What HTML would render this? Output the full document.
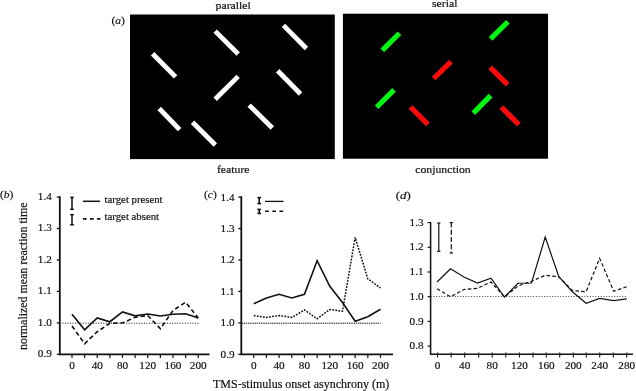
<!DOCTYPE html>
<html><head><meta charset="utf-8"><title>figure</title>
<style>
html,body{margin:0;padding:0;background:#fff;}
svg{display:block;will-change:transform;}
text{font-family:"Liberation Serif","DejaVu Serif",serif;fill:#111;stroke:#111;stroke-width:0.18px;}
</style></head><body>
<svg width="636" height="391" viewBox="0 0 636 391">
<rect x="0" y="0" width="636" height="391" fill="#fff"/>

<rect x="130" y="14.5" width="204.8" height="144.6" fill="#000"/>
<rect x="342.9" y="13.7" width="205.15" height="145.0" fill="#000"/>
<line x1="152.6" y1="53.7" x2="175.6" y2="76.85" stroke="#fff" stroke-width="4.8"/>
<line x1="215.16" y1="31.1" x2="238.2" y2="54.0" stroke="#fff" stroke-width="4.8"/>
<line x1="283.45" y1="25.4" x2="306.45" y2="48.45" stroke="#fff" stroke-width="4.8"/>
<line x1="215.16" y1="99.29" x2="238.2" y2="76.33" stroke="#fff" stroke-width="4.8"/>
<line x1="277.68" y1="70.79" x2="300.53" y2="93.95" stroke="#fff" stroke-width="4.8"/>
<line x1="159.19" y1="108.51" x2="179.64" y2="129.68" stroke="#fff" stroke-width="4.8"/>
<line x1="192.55" y1="122.2" x2="215.4" y2="145.0" stroke="#fff" stroke-width="4.8"/>
<line x1="249.14" y1="105.1" x2="272.3" y2="128.0" stroke="#fff" stroke-width="4.8"/>
<line x1="382.26" y1="50.4" x2="399.39" y2="33.27" stroke="#00f510" stroke-width="5.2"/>
<line x1="433.6" y1="78.5" x2="451.0" y2="61.55" stroke="#fc0a0a" stroke-width="5.2"/>
<line x1="490.5" y1="38.8" x2="507.89" y2="21.76" stroke="#00f510" stroke-width="5.2"/>
<line x1="490.2" y1="67.4" x2="507.6" y2="84.63" stroke="#fc0a0a" stroke-width="5.2"/>
<line x1="376.6" y1="107.25" x2="394.0" y2="89.86" stroke="#00f510" stroke-width="5.2"/>
<line x1="410.5" y1="106.97" x2="427.9" y2="124.4" stroke="#fc0a0a" stroke-width="5.2"/>
<line x1="473.33" y1="113.05" x2="490.6" y2="95.63" stroke="#00f510" stroke-width="5.2"/>
<line x1="501.24" y1="107.06" x2="518.85" y2="124.54" stroke="#fc0a0a" stroke-width="5.2"/>
<text transform="translate(215.6,8.55) scale(1.11,1)" font-size="10.6">parallel</text>
<text transform="translate(432,7.4) scale(1.11,1)" font-size="10.6">serial</text>
<text transform="translate(216.9,172.6) scale(1.11,1)" font-size="10.6">feature</text>
<text transform="translate(415.2,172.6) scale(1.11,1)" font-size="10.6">conjunction</text>
<text transform="translate(111.5,23.7) scale(1,0.92)" font-size="11.5">(<tspan font-style="italic">a</tspan>)</text>
<text transform="translate(0.0,197.7) scale(1,0.92)" font-size="11.5">(<tspan font-style="italic">b</tspan>)</text>
<text transform="translate(204.0,198.2) scale(1,0.92)" font-size="11.5">(<tspan font-style="italic">c</tspan>)</text>
<text transform="translate(395.7,198.5) scale(1.12,0.9)" font-size="11.5">(<tspan font-style="italic">d</tspan>)</text>
<path d="M59.8,196.3V354.3H209.5" fill="none" stroke="#111" stroke-width="1.8"/>
<line x1="56.8" y1="197.06" x2="59.8" y2="197.06" stroke="#111" stroke-width="1.3"/>
<text x="51.8" y="199.66" font-size="11.2" text-anchor="end">1.4</text>
<line x1="56.8" y1="228.52" x2="59.8" y2="228.52" stroke="#111" stroke-width="1.3"/>
<text x="51.8" y="231.12" font-size="11.2" text-anchor="end">1.3</text>
<line x1="56.8" y1="259.98" x2="59.8" y2="259.98" stroke="#111" stroke-width="1.3"/>
<text x="51.8" y="262.58" font-size="11.2" text-anchor="end">1.2</text>
<line x1="56.8" y1="291.44" x2="59.8" y2="291.44" stroke="#111" stroke-width="1.3"/>
<text x="51.8" y="294.04" font-size="11.2" text-anchor="end">1.1</text>
<line x1="56.8" y1="322.90" x2="59.8" y2="322.90" stroke="#111" stroke-width="1.3"/>
<text x="51.8" y="325.50" font-size="11.2" text-anchor="end">1.0</text>
<line x1="56.8" y1="354.36" x2="59.8" y2="354.36" stroke="#111" stroke-width="1.3"/>
<text x="51.8" y="356.96" font-size="11.2" text-anchor="end">0.9</text>
<line x1="72.00" y1="354.3" x2="72.00" y2="357.90000000000003" stroke="#111" stroke-width="1.2"/>
<text x="72.00" y="369.3" font-size="11.2" text-anchor="middle">0</text>
<line x1="84.62" y1="354.3" x2="84.62" y2="357.90000000000003" stroke="#111" stroke-width="1.2"/>
<line x1="97.25" y1="354.3" x2="97.25" y2="357.90000000000003" stroke="#111" stroke-width="1.2"/>
<text x="97.25" y="369.3" font-size="11.2" text-anchor="middle">40</text>
<line x1="109.88" y1="354.3" x2="109.88" y2="357.90000000000003" stroke="#111" stroke-width="1.2"/>
<line x1="122.50" y1="354.3" x2="122.50" y2="357.90000000000003" stroke="#111" stroke-width="1.2"/>
<text x="122.50" y="369.3" font-size="11.2" text-anchor="middle">80</text>
<line x1="135.12" y1="354.3" x2="135.12" y2="357.90000000000003" stroke="#111" stroke-width="1.2"/>
<line x1="147.75" y1="354.3" x2="147.75" y2="357.90000000000003" stroke="#111" stroke-width="1.2"/>
<text x="147.75" y="369.3" font-size="11.2" text-anchor="middle">120</text>
<line x1="160.38" y1="354.3" x2="160.38" y2="357.90000000000003" stroke="#111" stroke-width="1.2"/>
<line x1="173.00" y1="354.3" x2="173.00" y2="357.90000000000003" stroke="#111" stroke-width="1.2"/>
<text x="173.00" y="369.3" font-size="11.2" text-anchor="middle">160</text>
<line x1="185.62" y1="354.3" x2="185.62" y2="357.90000000000003" stroke="#111" stroke-width="1.2"/>
<line x1="198.25" y1="354.3" x2="198.25" y2="357.90000000000003" stroke="#111" stroke-width="1.2"/>
<text x="198.25" y="369.3" font-size="11.2" text-anchor="middle">200</text>
<line x1="59.8" y1="323.2" x2="199.5" y2="323.2" stroke="#222" stroke-width="1" stroke-dasharray="1.1,1.45"/>
<polyline points="72.00,314.25 84.62,329.75 97.25,318.00 109.88,321.75 122.50,311.90 135.12,315.80 147.75,314.00 160.38,316.00 173.00,314.25 185.62,313.75 198.25,318.00" fill="none" stroke="#111" stroke-width="1.7" stroke-linejoin="miter"/>
<polyline points="72.00,326.00 84.62,343.75 97.25,331.75 109.88,323.30 122.50,323.00 135.12,317.25 147.75,315.50 160.38,328.75 173.00,310.50 185.62,302.25 198.25,318.00" fill="none" stroke="#111" stroke-width="1.6" stroke-dasharray="4.4,2.8"/>
<line x1="72.0" y1="197.4" x2="72.0" y2="209.3" stroke="#111" stroke-width="1.5"/><line x1="70.2" y1="197.4" x2="73.8" y2="197.4" stroke="#111" stroke-width="1.5"/><line x1="70.2" y1="209.3" x2="73.8" y2="209.3" stroke="#111" stroke-width="1.5"/>
<line x1="72.0" y1="214.7" x2="72.0" y2="224.8" stroke="#111" stroke-width="1.5"/><line x1="70.2" y1="214.7" x2="73.8" y2="214.7" stroke="#111" stroke-width="1.5"/><line x1="70.2" y1="224.8" x2="73.8" y2="224.8" stroke="#111" stroke-width="1.5"/>
<line x1="82.9" y1="201.3" x2="99.9" y2="201.3" stroke="#111" stroke-width="1.5"/>
<line x1="82.9" y1="218.9" x2="100.4" y2="218.9" stroke="#111" stroke-width="1.6" stroke-dasharray="3.7,3.4"/>
<text transform="translate(104.6,203.1) scale(1.055,1)" font-size="10.2">target present</text>
<text transform="translate(104.6,220.1) scale(1.055,1)" font-size="10.2">target absent</text>
<text transform="translate(27.3,350) rotate(-90)" font-size="11.9">normalized mean reaction time</text>
<path d="M241.3,196.3V354.3H393" fill="none" stroke="#111" stroke-width="1.8"/>
<line x1="238.3" y1="197.06" x2="241.3" y2="197.06" stroke="#111" stroke-width="1.3"/>
<text x="234.6" y="200.56" font-size="11.2" text-anchor="end">1.4</text>
<line x1="238.3" y1="228.52" x2="241.3" y2="228.52" stroke="#111" stroke-width="1.3"/>
<text x="234.6" y="232.02" font-size="11.2" text-anchor="end">1.3</text>
<line x1="238.3" y1="259.98" x2="241.3" y2="259.98" stroke="#111" stroke-width="1.3"/>
<text x="234.6" y="263.48" font-size="11.2" text-anchor="end">1.2</text>
<line x1="238.3" y1="291.44" x2="241.3" y2="291.44" stroke="#111" stroke-width="1.3"/>
<text x="234.6" y="294.94" font-size="11.2" text-anchor="end">1.1</text>
<line x1="238.3" y1="322.90" x2="241.3" y2="322.90" stroke="#111" stroke-width="1.3"/>
<text x="234.6" y="326.40" font-size="11.2" text-anchor="end">1.0</text>
<line x1="238.3" y1="354.36" x2="241.3" y2="354.36" stroke="#111" stroke-width="1.3"/>
<text x="234.6" y="357.86" font-size="11.2" text-anchor="end">0.9</text>
<line x1="253.75" y1="354.3" x2="253.75" y2="357.90000000000003" stroke="#111" stroke-width="1.2"/>
<text x="253.75" y="369.3" font-size="11.2" text-anchor="middle">0</text>
<line x1="266.43" y1="354.3" x2="266.43" y2="357.90000000000003" stroke="#111" stroke-width="1.2"/>
<line x1="279.10" y1="354.3" x2="279.10" y2="357.90000000000003" stroke="#111" stroke-width="1.2"/>
<text x="279.10" y="369.3" font-size="11.2" text-anchor="middle">40</text>
<line x1="291.77" y1="354.3" x2="291.77" y2="357.90000000000003" stroke="#111" stroke-width="1.2"/>
<line x1="304.45" y1="354.3" x2="304.45" y2="357.90000000000003" stroke="#111" stroke-width="1.2"/>
<text x="304.45" y="369.3" font-size="11.2" text-anchor="middle">80</text>
<line x1="317.12" y1="354.3" x2="317.12" y2="357.90000000000003" stroke="#111" stroke-width="1.2"/>
<line x1="329.80" y1="354.3" x2="329.80" y2="357.90000000000003" stroke="#111" stroke-width="1.2"/>
<text x="329.80" y="369.3" font-size="11.2" text-anchor="middle">120</text>
<line x1="342.48" y1="354.3" x2="342.48" y2="357.90000000000003" stroke="#111" stroke-width="1.2"/>
<line x1="355.15" y1="354.3" x2="355.15" y2="357.90000000000003" stroke="#111" stroke-width="1.2"/>
<text x="355.15" y="369.3" font-size="11.2" text-anchor="middle">160</text>
<line x1="367.82" y1="354.3" x2="367.82" y2="357.90000000000003" stroke="#111" stroke-width="1.2"/>
<line x1="380.50" y1="354.3" x2="380.50" y2="357.90000000000003" stroke="#111" stroke-width="1.2"/>
<text x="380.50" y="369.3" font-size="11.2" text-anchor="middle">200</text>
<line x1="241.3" y1="323.2" x2="380.5" y2="323.2" stroke="#111" stroke-width="1" stroke-dasharray="1.4,0.8"/>
<polyline points="253.75,303.75 266.43,298.00 279.10,294.25 291.77,298.00 304.45,294.25 317.12,260.75 329.80,286.25 342.48,302.50 355.15,321.25 367.82,316.75 380.50,309.25" fill="none" stroke="#111" stroke-width="1.6"/>
<polyline points="253.75,315.50 266.43,317.50 279.10,315.50 291.77,317.50 304.45,310.00 317.12,318.75 329.80,309.50 342.48,311.25 355.15,237.50 367.82,278.75 380.50,288.00" fill="none" stroke="#111" stroke-width="1.5" stroke-dasharray="1.8,1.3"/>
<line x1="259.2" y1="197.6" x2="259.2" y2="203.6" stroke="#111" stroke-width="1.6"/><line x1="257.4" y1="197.6" x2="261.0" y2="197.6" stroke="#111" stroke-width="1.6"/><line x1="257.4" y1="203.6" x2="261.0" y2="203.6" stroke="#111" stroke-width="1.6"/>
<line x1="259.2" y1="209.4" x2="259.2" y2="213.4" stroke="#111" stroke-width="1.6"/><line x1="257.4" y1="209.4" x2="261.0" y2="209.4" stroke="#111" stroke-width="1.6"/><line x1="257.4" y1="213.4" x2="261.0" y2="213.4" stroke="#111" stroke-width="1.6"/>
<line x1="265" y1="201.4" x2="283.5" y2="201.4" stroke="#111" stroke-width="1.3"/>
<line x1="265.1" y1="211.3" x2="283.3" y2="211.3" stroke="#111" stroke-width="1.4" stroke-dasharray="3.7,3.5"/>
<text x="213" y="388.2" font-size="12">TMS-stimulus onset asynchrony (m)</text>
<path d="M430.6,222V354.3H633" fill="none" stroke="#111" stroke-width="1.5"/>
<line x1="427.6" y1="222.60" x2="430.6" y2="222.60" stroke="#111" stroke-width="1.2"/>
<text x="423.6" y="225.70" font-size="11.2" text-anchor="end">1.3</text>
<line x1="427.6" y1="247.30" x2="430.6" y2="247.30" stroke="#111" stroke-width="1.2"/>
<text x="423.6" y="250.40" font-size="11.2" text-anchor="end">1.2</text>
<line x1="427.6" y1="272.00" x2="430.6" y2="272.00" stroke="#111" stroke-width="1.2"/>
<text x="423.6" y="275.10" font-size="11.2" text-anchor="end">1.1</text>
<line x1="427.6" y1="296.70" x2="430.6" y2="296.70" stroke="#111" stroke-width="1.2"/>
<text x="423.6" y="299.80" font-size="11.2" text-anchor="end">1.0</text>
<line x1="427.6" y1="321.40" x2="430.6" y2="321.40" stroke="#111" stroke-width="1.2"/>
<text x="423.6" y="324.50" font-size="11.2" text-anchor="end">0.9</text>
<line x1="427.6" y1="346.10" x2="430.6" y2="346.10" stroke="#111" stroke-width="1.2"/>
<text x="423.6" y="349.20" font-size="11.2" text-anchor="end">0.8</text>
<line x1="437.50" y1="352.5" x2="437.50" y2="357.5" stroke="#111" stroke-width="1.1"/>
<text x="437.50" y="369.3" font-size="11.2" text-anchor="middle">0</text>
<line x1="451.20" y1="352.5" x2="451.20" y2="357.5" stroke="#111" stroke-width="1.1"/>
<line x1="464.70" y1="352.5" x2="464.70" y2="357.5" stroke="#111" stroke-width="1.1"/>
<text x="464.70" y="369.3" font-size="11.2" text-anchor="middle">40</text>
<line x1="478.70" y1="352.5" x2="478.70" y2="357.5" stroke="#111" stroke-width="1.1"/>
<line x1="492.20" y1="352.5" x2="492.20" y2="357.5" stroke="#111" stroke-width="1.1"/>
<text x="492.20" y="369.3" font-size="11.2" text-anchor="middle">80</text>
<line x1="505.80" y1="352.5" x2="505.80" y2="357.5" stroke="#111" stroke-width="1.1"/>
<line x1="519.50" y1="352.5" x2="519.50" y2="357.5" stroke="#111" stroke-width="1.1"/>
<text x="519.50" y="369.3" font-size="11.2" text-anchor="middle">120</text>
<line x1="533.00" y1="352.5" x2="533.00" y2="357.5" stroke="#111" stroke-width="1.1"/>
<line x1="546.30" y1="352.5" x2="546.30" y2="357.5" stroke="#111" stroke-width="1.1"/>
<text x="546.30" y="369.3" font-size="11.2" text-anchor="middle">160</text>
<line x1="559.70" y1="352.5" x2="559.70" y2="357.5" stroke="#111" stroke-width="1.1"/>
<line x1="573.30" y1="352.5" x2="573.30" y2="357.5" stroke="#111" stroke-width="1.1"/>
<text x="573.30" y="369.3" font-size="11.2" text-anchor="middle">200</text>
<line x1="586.30" y1="352.5" x2="586.30" y2="357.5" stroke="#111" stroke-width="1.1"/>
<line x1="599.70" y1="352.5" x2="599.70" y2="357.5" stroke="#111" stroke-width="1.1"/>
<text x="599.70" y="369.3" font-size="11.2" text-anchor="middle">240</text>
<line x1="613.30" y1="352.5" x2="613.30" y2="357.5" stroke="#111" stroke-width="1.1"/>
<line x1="626.70" y1="352.5" x2="626.70" y2="357.5" stroke="#111" stroke-width="1.1"/>
<text x="626.70" y="369.3" font-size="11.2" text-anchor="middle">280</text>
<line x1="430.6" y1="296.5" x2="626.7" y2="296.5" stroke="#333" stroke-width="0.9" stroke-dasharray="1,1.7"/>
<polyline points="437.00,282.00 450.50,268.75 464.00,277.00 477.50,283.00 491.00,278.25 504.50,297.00 518.00,283.25 531.50,283.00 545.20,237.00 558.70,276.40 572.40,291.80 586.10,303.20 599.60,298.40 613.70,300.70 626.70,298.90" fill="none" stroke="#111" stroke-width="1.2"/>
<polyline points="437.00,288.75 450.50,296.75 464.00,289.50 477.50,288.25 491.00,282.00 504.50,297.00 518.00,286.00 531.50,281.25 545.20,275.30 558.70,276.75 572.40,290.60 586.10,291.75 599.60,258.30 613.70,291.20 626.70,286.80" fill="none" stroke="#111" stroke-width="1.2" stroke-dasharray="3.6,2.2"/>
<line x1="438.8" y1="223" x2="438.8" y2="251.3" stroke="#111" stroke-width="1.2"/><line x1="437.2" y1="223" x2="440.40000000000003" y2="223" stroke="#111" stroke-width="1.2"/><line x1="437.2" y1="251.3" x2="440.40000000000003" y2="251.3" stroke="#111" stroke-width="1.2"/>
<line x1="451.3" y1="222.6" x2="451.3" y2="253" stroke="#111" stroke-width="1.2" stroke-dasharray="5,2.2"/><line x1="449.7" y1="222.6" x2="452.90000000000003" y2="222.6" stroke="#111" stroke-width="1.2"/><line x1="449.7" y1="253" x2="452.90000000000003" y2="253" stroke="#111" stroke-width="1.2"/>
</svg></body></html>
